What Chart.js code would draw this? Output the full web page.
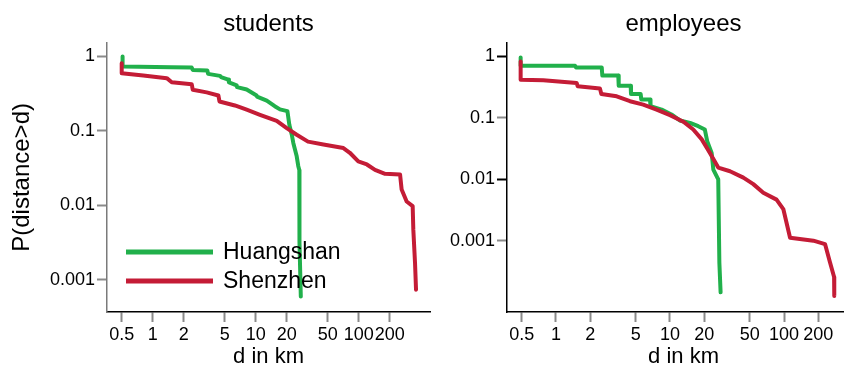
<!DOCTYPE html>
<html>
<head>
<meta charset="utf-8">
<title>P(distance&gt;d)</title>
<script src="https://cdn.jsdelivr.net/npm/chart.js@4.4.0/dist/chart.umd.min.js"></script>
<style>
  html, body { margin: 0; padding: 0; background: #fff; overflow: hidden; }
  #wrap { position: relative; width: 844px; height: 371px; overflow: hidden; }
  canvas { position: absolute; top: 0; }
  #studentsChart { left: 0; }
  #employeesChart { left: 432px; }
</style>
</head>
<body>
<div id="wrap">
  <canvas id="studentsChart" width="432" height="371"></canvas>
  <canvas id="employeesChart" width="428" height="371"></canvas>
</div>
<script>
var dTicks = [0.5, 1, 2, 5, 10, 20, 50, 100, 200];
var pTicks = [1, 0.1, 0.01, 0.001];
var cityNames = ['Huangshan', 'Shenzhen'];
var green = 'rgb(33, 176, 75)';
var red = 'rgb(196, 28, 54)';

// students, d in km / P(distance>d)
var stuHuangD = [0.51, 0.51, 1.53, 2.39, 2.45, 3.39, 3.45, 4.5, 4.6, 5.42, 5.5, 6.53, 6.6, 8.17, 10.2, 10.3, 12.8, 15.3, 17.2, 20.3, 21.2, 22.4, 23.2, 25.0, 25.9, 26.5, 26.6, 27.4];
var stuHuangP = [1.0, 0.734, 0.72, 0.71, 0.66, 0.65, 0.585, 0.55, 0.53, 0.49, 0.45, 0.41, 0.388, 0.36, 0.30, 0.29, 0.255, 0.215, 0.195, 0.185, 0.121, 0.089, 0.0685, 0.0457, 0.0337, 0.030, 0.0032, 0.0006];
var stuShenD = [0.50, 0.50, 0.81, 1.37, 1.53, 2.39, 2.45, 3.34, 4.34, 4.45, 6.28, 8.17, 11.0, 16.0, 20.0, 25.0, 32.2, 45.4, 71, 82, 99, 120, 144, 180, 252, 261, 292, 334, 339, 352, 360];
var stuShenP = [0.815, 0.598, 0.556, 0.512, 0.452, 0.425, 0.357, 0.33, 0.30, 0.249, 0.22, 0.193, 0.165, 0.137, 0.109, 0.089, 0.072, 0.066, 0.059, 0.051, 0.039, 0.0355, 0.030, 0.0266, 0.026, 0.0164, 0.0113, 0.0098, 0.0047, 0.0017, 0.00074];

// employees
var empHuangD = [0.49, 0.49, 1.47, 1.5, 2.52, 2.55, 3.52, 3.55, 4.52, 4.55, 5.53, 5.6, 6.68, 6.75, 8.45, 10.3, 12.2, 15.0, 17.7, 20.2, 21.2, 23.2, 24.0, 26.5, 27.1, 27.8];
var empHuangP = [0.96, 0.707, 0.707, 0.664, 0.664, 0.49, 0.49, 0.335, 0.335, 0.246, 0.246, 0.199, 0.199, 0.155, 0.137, 0.114, 0.091, 0.083, 0.0735, 0.065, 0.042, 0.027, 0.0145, 0.010, 0.00045, 0.000146];
var empShenD = [0.49, 0.49, 0.774, 1.52, 1.55, 2.43, 2.5, 3.41, 4.46, 5.83, 7.63, 10.0, 13.1, 16.0, 19.0, 22.4, 26.5, 33.6, 44, 53.8, 65.8, 86, 98.6, 113, 181, 229, 253, 275, 276];
var empShenP = [0.83, 0.419, 0.41, 0.37, 0.327, 0.30, 0.246, 0.225, 0.187, 0.165, 0.137, 0.111, 0.087, 0.065, 0.0448, 0.027, 0.0156, 0.0136, 0.0107, 0.0084, 0.0061, 0.0047, 0.0033, 0.00113, 0.00101, 0.00089, 0.00045, 0.00026, 0.000128];

Chart.defaults.font.family = '"Liberation Sans", Arial, Helvetica, sans-serif';
Chart.defaults.color = '#000';

function toPoints(d, p)
{
    return d.map(function (x, i) { return { x: x, y: p[i] }; });
}

function lineSet(label, color, pts, order)
{
    return {
        label: label,
        data: pts,
        borderColor: color,
        backgroundColor: color,
        borderWidth: 4,
        borderCapStyle: 'round',
        borderJoinStyle: 'round',
        pointRadius: 0,
        tension: 0,
        fill: false,
        order: order
    };
}

// legend sits inside the students plot, bottom left
var insideLegend = {
    id: 'insideLegend',
    afterDraw: function (chart) {
        if (!chart.options.plugins.insideLegend.display) return;
        var ctx = chart.ctx;
        ctx.save();
        chart.data.datasets.forEach(function (ds, i) {
            var y = 252 + i * 29;
            ctx.strokeStyle = ds.borderColor;
            ctx.lineWidth = 5;
            ctx.beginPath();
            ctx.moveTo(126, y);
            ctx.lineTo(213, y);
            ctx.stroke();
            ctx.fillStyle = '#000';
            ctx.font = '23px "Liberation Sans", Arial, sans-serif';
            ctx.textBaseline = 'middle';
            ctx.fillText(ds.label, 223, y + 1);
        });
        ctx.restore();
    }
};

function makePanel(id, title, huang, shen, o)
{
    return new Chart(id, {
        type: 'line',
        data: {
            datasets: [
                lineSet(cityNames[0], green, huang, 2),
                lineSet(cityNames[1], red, shen, 1)
            ]
        },
        plugins: [insideLegend],
        options: {
            responsive: false,
            animation: false,
            layout: { padding: { left: 0, right: o.padRight, top: 0, bottom: 0 } },
            plugins: {
                legend: { display: false },
                tooltip: { enabled: false },
                insideLegend: { display: o.legend },
                title: {
                    display: true,
                    text: title,
                    fullSize: false,
                    color: '#000',
                    font: { size: 24, weight: 'normal' },
                    padding: { top: 10, bottom: 4 }
                }
            },
            scales: {
                x: {
                    type: 'logarithmic',
                    min: o.xMin,
                    max: o.xMax,
                    afterBuildTicks: function (axis) {
                        axis.ticks = dTicks.map(function (v) { return { value: v }; });
                    },
                    afterFit: function (axis) { axis.height = 59; },
                    ticks: {
                        autoSkip: false,
                        maxRotation: 0,
                        minRotation: 0,
                        padding: 2,
                        font: { size: 18 },
                        callback: function (v) { return String(v); }
                    },
                    grid: {
                        drawOnChartArea: false,
                        drawTicks: true,
                        tickLength: 10,
                        tickWidth: 2,
                        tickColor: '#8a8a8a'
                    },
                    border: { display: true, color: '#000', width: 1.5 },
                    title: {
                        display: true,
                        text: 'd in km',
                        font: { size: 22 },
                        padding: { top: 0, bottom: 1 }
                    }
                },
                y: {
                    type: 'logarithmic',
                    min: o.yMin,
                    max: o.yMax,
                    afterBuildTicks: function (axis) {
                        axis.ticks = pTicks.map(function (v) { return { value: v }; });
                    },
                    afterFit: function (axis) { axis.width = o.yWidth; },
                    ticks: {
                        padding: 2,
                        font: { size: 18 },
                        callback: function (v) { return String(v); }
                    },
                    grid: {
                        drawOnChartArea: false,
                        drawTicks: true,
                        tickLength: 10,
                        tickWidth: 2,
                        tickColor: o.yTickColor
                    },
                    border: { display: true, color: o.yBorder, width: 1.5 },
                    title: {
                        display: o.yTitle,
                        text: 'P(distance>d)',
                        font: { size: 24 },
                        padding: { top: 8, bottom: 0 }
                    }
                }
            }
        }
    });
}

var studentsChart = makePanel('studentsChart', 'students',
    toPoints(stuHuangD, stuHuangP), toPoints(stuShenD, stuShenP), {
        xMin: 0.36, xMax: 492, yMin: 0.000371, yMax: 1.528,
        yWidth: 107, padRight: 2, yTitle: true, legend: true,
        yTickColor: '#8a8a8a', yBorder: '#7a7a7a'
    });

var employeesChart = makePanel('employeesChart', 'employees',
    toPoints(empHuangD, empHuangP), toPoints(empShenD, empShenP), {
        xMin: 0.372, xMax: 464, yMin: 0.0000728, yMax: 1.667,
        yWidth: 75, padRight: 0, yTitle: false, legend: false,
        yTickColor: function (c) {
            return (c.tick && (c.tick.value === 1 || c.tick.value === 0.01)) ? '#000' : '#8a8a8a';
        },
        yBorder: '#000'
    });
</script>
</body>
</html>
